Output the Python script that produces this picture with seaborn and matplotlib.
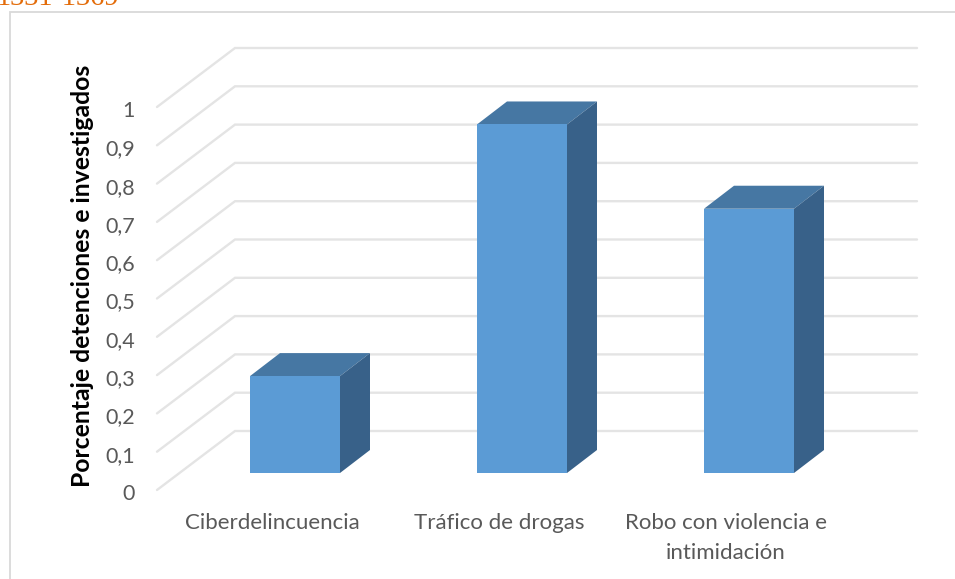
import matplotlib
matplotlib.use("Agg")
import matplotlib.pyplot as plt
from matplotlib.patches import Polygon, Rectangle
import pandas as pd
import seaborn as sns

# DATA
categories = ["Ciberdelincuencia", "Tráfico de drogas", "Robo con violencia e\nintimidación"]
valores = [0.253, 0.91, 0.69]
ticks = [0, 0.1, 0.2, 0.3, 0.4, 0.5, 0.6, 0.7, 0.8, 0.9, 1]
tick_labels = ["0", "0,1", "0,2", "0,3", "0,4", "0,5", "0,6", "0,7", "0,8", "0,9", "1"]

df = pd.DataFrame({"delito": categories, "valor": valores})

W, H = 955, 579
BASE_PX = 473      # pixel row of value 0 on the bar front
UNIT_PX = 383      # pixels for value 1
STEP_PX = 227      # pixels between categories
FIRST_PX = 295     # pixel column of first bar centre


def xpx(px):
    return (px - FIRST_PX) / STEP_PX


def ypx(py):
    return (BASE_PX - py) / UNIT_PX


def dx(px):
    return px / STEP_PX


def dy(px):
    return px / UNIT_PX


sns.set_theme(style="white")
plt.rcParams["font.family"] = ["Lato", "DejaVu Sans"]

fig = plt.figure(figsize=(W / 100, H / 100), dpi=100)
ax = fig.add_axes([0, 0, 1, 1])

# bar fronts
sns.barplot(data=df, x="delito", y="valor", color="#5b9bd5", saturation=1,
            width=90 / STEP_PX, ax=ax, zorder=4, linewidth=0, edgecolor="none")

ax.set_xlim(xpx(0), xpx(W))
ax.set_ylim(ypx(H), ypx(0))
ax.axis("off")

# chart frame, runs off the right and bottom of the crop
ax.add_patch(Rectangle((xpx(9.5), ypx(H + 20)), dx(W + 40), dy(H + 20 - 11.5),
                       fill=False, edgecolor="#d9d9d9", linewidth=1.3, zorder=1))

# floor and back wall gridlines
for t, lab in zip(ticks, tick_labels):
    y_front = ypx(490) + t
    y_back = y_front + dy(59)
    ax.plot([xpx(157), xpx(235), xpx(917)], [y_front, y_back, y_back],
            color="#e4e4e4", linewidth=1.7, zorder=2, solid_joinstyle="miter")
    ax.text(xpx(135), y_front - dy(2), lab, ha="right", va="center_baseline", fontsize=15.5,
            color="#595959")

# bar top and side faces
depth_x = dx(30)
depth_y = dy(23)
half = 45 / STEP_PX
for i, v in enumerate(valores):
    ax.add_patch(Polygon([(i - half, v), (i + half, v), (i + half + depth_x, v + depth_y),
                          (i - half + depth_x, v + depth_y)],
                         facecolor="#4677a3", edgecolor="none", zorder=3))
    ax.add_patch(Polygon([(i + half, 0), (i + half + depth_x, depth_y),
                          (i + half + depth_x, v + depth_y), (i + half, v)],
                         facecolor="#386189", edgecolor="none", zorder=3))

# category labels sit on the front edge of the floor, left of the bar centres
for i, c in enumerate(categories):
    ax.text(i - dx(23), ypx(513), c, ha="center", va="top", fontsize=16, color="#595959",
            linespacing=1.65)

ax.text(xpx(83), ypx(276), "Porcentaje detenciones e investigados", rotation=90,
        ha="center", va="center", fontsize=17.8, fontweight="bold", color="black")

# cut-off caption at the top edge
ax.text(xpx(-3), ypx(5), "1331-1369", ha="left", va="baseline", fontsize=20.5,
        family="Liberation Serif", color="#e36c0a")

fig.savefig("out.png", dpi=100)
